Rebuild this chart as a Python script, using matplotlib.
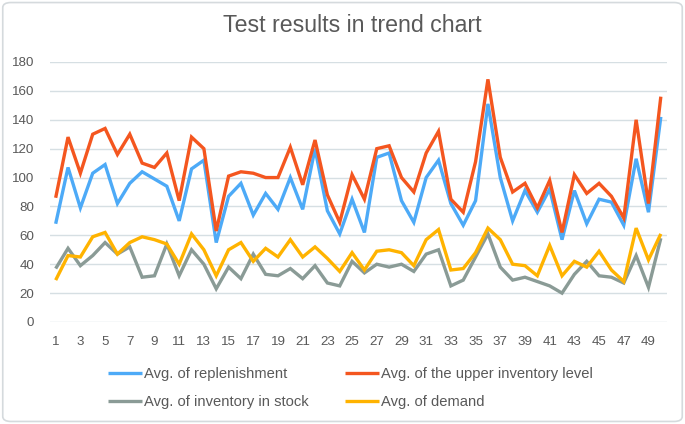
import matplotlib
matplotlib.use("Agg")
import matplotlib.pyplot as plt
from matplotlib.patches import FancyBboxPatch

plt.rcParams['font.family'] = ['Liberation Sans', 'DejaVu Sans']

# данные
days = list(range(1, 51))
replenishment = [68, 107, 79, 103, 109, 82, 96, 104, 99, 94,
                 70, 106, 112, 55, 87, 96, 74, 89, 78, 100,
                 78, 120, 77, 61, 85, 62, 114, 117, 84, 69,
                 100, 112, 82, 67, 84, 151, 100, 70, 91, 76,
                 92, 57, 91, 68, 85, 83, 67, 113, 76, 142]
upper_level = [86, 128, 103, 130, 134, 116, 130, 110, 107, 117,
               84, 128, 120, 63, 101, 104, 103, 100, 100, 121,
               95, 126, 88, 69, 102, 85, 120, 122, 100, 90,
               117, 132, 85, 76, 111, 168, 114, 90, 96, 79,
               98, 62, 102, 89, 96, 87, 72, 140, 82, 156]
in_stock = [37, 51, 39, 46, 55, 47, 52, 31, 32, 54,
            32, 50, 40, 23, 38, 30, 47, 33, 32, 37,
            30, 39, 27, 25, 42, 34, 40, 38, 40, 35,
            47, 50, 25, 29, 45, 61, 38, 29, 31, 28,
            25, 20, 33, 42, 32, 31, 27, 46, 24, 58]
demand = [29, 46, 45, 59, 62, 47, 55, 59, 57, 54,
          40, 61, 50, 32, 50, 55, 42, 51, 45, 57,
          45, 52, 44, 35, 48, 36, 49, 50, 48, 39,
          57, 64, 36, 37, 48, 65, 57, 40, 39, 32,
          53, 32, 42, 38, 49, 36, 28, 65, 43, 61]

series = [
    ("Avg. of replenishment", replenishment, "#4daaf7"),
    ("Avg. of the upper inventory level", upper_level, "#f4561f"),
    ("Avg. of inventory in stock", in_stock, "#8a9b96"),
    ("Avg. of demand", demand, "#ffb300"),
]

text_color = "#595959"

fig = plt.figure(figsize=(6.85, 4.24), dpi=100)
fig.patch.set_facecolor("white")

# рамка вокруг всей диаграммы
frame = FancyBboxPatch((0.004, 0.006), 0.992, 0.988,
                       boxstyle="round,pad=0,rounding_size=0.012",
                       transform=fig.transFigure, facecolor="none",
                       edgecolor="#d5dadd", linewidth=1.2, zorder=-1)
fig.patches.append(frame)

ax = fig.add_axes([49.5 / 685, 1 - 322 / 424, (667 - 49.5) / 685, (322 - 62) / 424])
ax.set_facecolor("none")

lines = []
for name, values, color in series:
    ln, = ax.plot(days, values, color=color, lw=2.4, label=name,
                  solid_joinstyle="miter", solid_capstyle="butt")
    lines.append(ln)

ax.set_xlim(0.5, 50.5)
ax.set_ylim(0, 180)
ax.set_yticks(range(0, 181, 20))
ax.set_xticks(range(1, 51, 2))
ax.grid(axis="y", color="#d6dfe3", lw=1.0)
ax.set_axisbelow(True)
for s in ax.spines.values():
    s.set_visible(False)
ax.tick_params(length=0, colors=text_color, labelsize=9.6)
ax.tick_params(axis="x", pad=10)
ax.tick_params(axis="y", pad=11)

fig.text(352.5 / 685, 1 - 25.5 / 424, "Test results in trend chart", ha="center",
         va="center", fontsize=16.7, color=text_color)

# порядок как в оригинале: по строкам
order = [lines[0], lines[2], lines[1], lines[3]]
leg = fig.legend(handles=order, loc="center", ncol=2,
                 bbox_to_anchor=(350.5 / 685, 1 - 388 / 424), frameon=False,
                 fontsize=10.6, handlelength=2.3, handletextpad=0.14,
                 columnspacing=2.45, labelspacing=0.95)
for t in leg.get_texts():
    t.set_color(text_color)

fig.savefig("out.png", dpi=100)
